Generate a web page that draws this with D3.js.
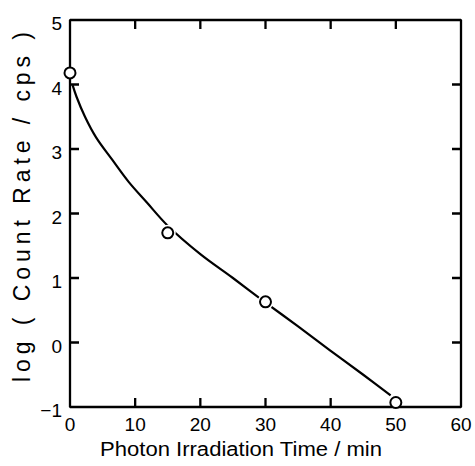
<!DOCTYPE html>
<html>
<head>
<meta charset="utf-8">
<script src="https://cdn.jsdelivr.net/npm/d3@7"></script>
<style>
  html, body { margin: 0; padding: 0; background: #fff; }
  svg { display: block; }
  text { font-family: "Liberation Sans Narrow", "Liberation Sans", Arial, sans-serif; fill: #000; }
</style>
</head>
<body>
<script>
// Measured points: irradiation time (min) vs log count rate (cps)
const timeMin = [0, 15, 30, 50];
const logRate = [4.18, 1.70, 0.63, -0.93];

// Smooth decay curve through the measurements
const curveTime = [0.4, 1.0, 2.3, 4, 6.5, 9, 11.8, 15, 20, 25, 30, 35, 40, 45, 49.2];
const curveLog  = [3.99, 3.81, 3.50, 3.18, 2.83, 2.49, 2.17, 1.81, 1.37, 1.00, 0.62, 0.25, -0.13, -0.50, -0.82];

// Axis ticks
const xTicks = [0, 10, 20, 30, 40, 50, 60];
const yTicks = [-1, 0, 1, 2, 3, 4, 5];

const W = 475, H = 466;
const plotL = 70, plotR = 461, plotT = 20, plotB = 407;

const svg = d3.select("body").append("svg").attr("width", W).attr("height", H);

const xScale = d3.scaleLinear().domain([0, 60]).range([plotL, plotR]);
const yScale = d3.scaleLinear().domain([-1, 5]).range([plotB, plotT]);

// Mask that opens a small gap in the curve around each marker
const defs = svg.append("defs");
const gapMask = defs.append("mask").attr("id", "gap").attr("maskUnits", "userSpaceOnUse")
  .attr("x", 0).attr("y", 0).attr("width", W).attr("height", H);
gapMask.append("rect").attr("width", W).attr("height", H).attr("fill", "#fff");
gapMask.selectAll("circle").data(timeMin).join("circle")
  .attr("cx", (d) => xScale(d)).attr("cy", (d, i) => yScale(logRate[i])).attr("r", 8).attr("fill", "#000");

// Frame and inward ticks as one outline path
const tickLen = 9;
const innerX = xTicks.slice(1, -1);
const innerY = yTicks.slice(1, -1);
const outline = d3.path();
outline.moveTo(plotL, plotB);
innerX.forEach((v) => {
  const px = xScale(v);
  outline.lineTo(px, plotB); outline.lineTo(px, plotB - tickLen); outline.lineTo(px, plotB);
});
outline.lineTo(plotR, plotB);
innerY.forEach((v) => {
  const py = yScale(v);
  outline.lineTo(plotR, py); outline.lineTo(plotR - tickLen, py); outline.lineTo(plotR, py);
});
outline.lineTo(plotR, plotT);
innerX.slice().reverse().forEach((v) => {
  const px = xScale(v);
  outline.lineTo(px, plotT); outline.lineTo(px, plotT + tickLen); outline.lineTo(px, plotT);
});
outline.lineTo(plotL, plotT);
innerY.slice().reverse().forEach((v) => {
  const py = yScale(v);
  outline.lineTo(plotL, py); outline.lineTo(plotL + tickLen, py); outline.lineTo(plotL, py);
});
outline.closePath();
svg.append("path").attr("d", outline.toString())
  .attr("fill", "none").attr("stroke", "#000").attr("stroke-width", 2.3)
  .attr("stroke-linejoin", "bevel");

// Tick labels
svg.append("g").selectAll("text").data(xTicks).join("text")
  .attr("x", (d) => xScale(d)).attr("y", 431)
  .attr("text-anchor", "middle").attr("font-size", 19)
  .text((d) => d);
svg.append("g").selectAll("text").data(yTicks).join("text")
  .attr("x", plotL - 8).attr("y", (d) => yScale(d) + 10)
  .attr("text-anchor", "end").attr("font-size", 19)
  .text((d) => d < 0 ? "\u2212" + Math.abs(d) : d);

// Decay curve
const line = d3.line().x((d) => xScale(d[0])).y((d) => yScale(d[1])).curve(d3.curveCatmullRom);
svg.append("path")
  .datum(curveTime.map((t, i) => [t, curveLog[i]]))
  .attr("d", line)
  .attr("fill", "none").attr("stroke", "#000").attr("stroke-width", 2.2)
  .attr("mask", "url(#gap)");

// Open-circle markers
svg.append("g").selectAll("circle").data(timeMin).join("circle")
  .attr("cx", (d) => xScale(d)).attr("cy", (d, i) => yScale(logRate[i]))
  .attr("r", 5.5).attr("fill", "#fff").attr("stroke", "#000").attr("stroke-width", 2);

// Axis titles
svg.append("text")
  .attr("x", 241).attr("y", 456)
  .attr("text-anchor", "middle").attr("font-size", 20)
  .attr("textLength", 282).attr("lengthAdjust", "spacingAndGlyphs")
  .text("Photon Irradiation Time / min");
svg.append("text")
  .attr("transform", "translate(30,207) rotate(-90)")
  .attr("text-anchor", "middle").attr("font-size", 23)
  .attr("textLength", 350).attr("lengthAdjust", "spacing")
  .text("log ( Count Rate / cps )");
</script>
</body>
</html>
